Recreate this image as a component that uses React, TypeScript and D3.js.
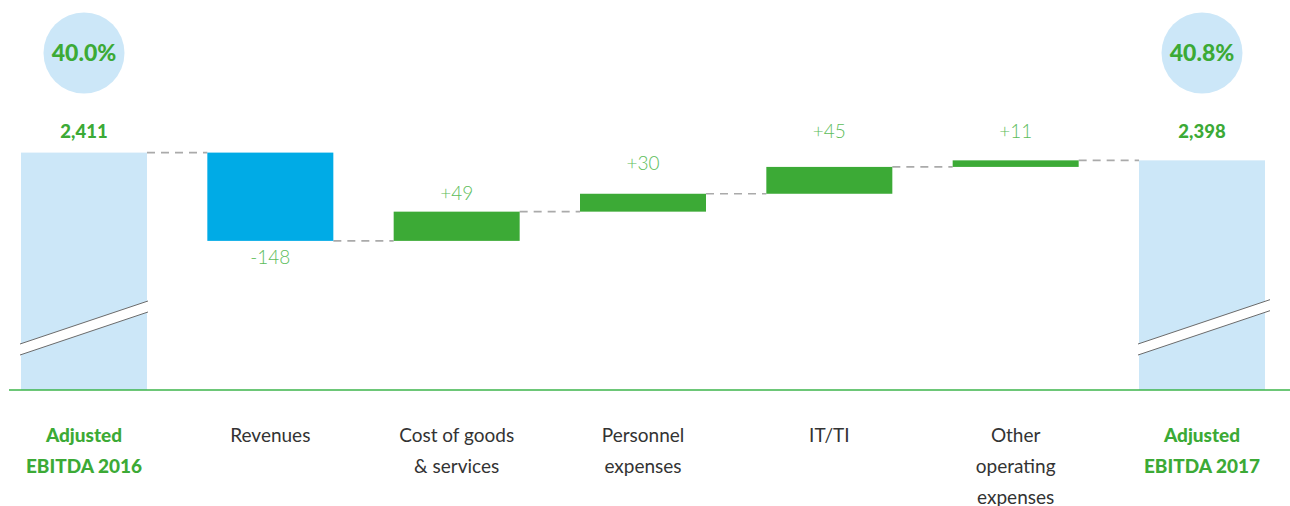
import React from "react";
import * as d3 from "d3";

const categories: string[][] = [
  ["Adjusted", "EBITDA 2016"],
  ["Revenues"],
  ["Cost of goods", "& services"],
  ["Personnel", "expenses"],
  ["IT/TI"],
  ["Other", "operating", "expenses"],
  ["Adjusted", "EBITDA 2017"],
];
const kinds = ["total", "delta", "delta", "delta", "delta", "delta", "total"];
const values = [2411, -148, 49, 30, 45, 11, 2398];
const margins = ["40.0%", "", "", "", "", "", "40.8%"];

const W = 1290;
const H = 506;
const GREEN = "#3caa36";
const LIGHTGREEN = "#5dbd5a";
const BLUE = "#00abe6";
const PALE = "#cce7f8";

export default function App() {
  const x = d3
    .scaleBand<number>()
    .domain(d3.range(categories.length))
    .range([21, 1265])
    .paddingInner(0.3238)
    .paddingOuter(0);
  const bw = x.bandwidth();
  const x0 = (i: number) => x(i) as number;

  const baseY = 390;
  const y = d3.scaleLinear().domain([2013, 2411]).range([baseY, 152.6]);

  let running = 0;
  const bars = values.map((v, i) => {
    if (kinds[i] === "total") {
      running = v;
      return { i, y0: y(v), y1: baseY, start: v, end: v, v };
    }
    const start = running;
    const end = running + v;
    running = end;
    return {
      i,
      y0: y(Math.max(start, end)),
      y1: y(Math.min(start, end)),
      start,
      end,
      v,
    };
  });

  const fmt = d3.format(",");
  const font = "Lato, 'Noto Sans', sans-serif";

  let posCount = 0;

  return (
    <svg width={W} height={H} style={{ position: "absolute", left: 0, top: 0 }}>
      {/* connectors */}
      {bars.slice(0, -1).map((b, k) => {
        const level = y(b.end);
        return (
          <line
            key={"c" + k}
            x1={x0(k) + bw}
            x2={x0(k + 1)}
            y1={level}
            y2={level}
            stroke="#aaaaaa"
            strokeWidth={1.6}
            strokeDasharray="8,6"
          />
        );
      })}
      {/* bars */}
      {bars.map((b) => {
        const isTotal = kinds[b.i] === "total";
        const fill = isTotal ? PALE : b.v < 0 ? BLUE : GREEN;
        return (
          <rect
            key={"b" + b.i}
            x={x0(b.i)}
            y={b.y0}
            width={bw}
            height={b.y1 - b.y0}
            fill={fill}
          />
        );
      })}
      {/* axis breaks */}
      {bars
        .filter((b) => kinds[b.i] === "total")
        .map((b) => {
          const l = x0(b.i) - 1;
          const r = x0(b.i) + bw + (b.i === 0 ? 1 : 5);
          const yl = 344;
          const slope = (301 - 344) / 128;
          const yr = yl + slope * (r - l);
          return (
            <g key={"br" + b.i}>
              <polygon
                points={`${l},${yl} ${r},${yr} ${r},${yr + 11} ${l},${yl + 11}`}
                fill="#ffffff"
              />
              <line x1={l} y1={yl} x2={r} y2={yr} stroke="#6b6b6b" strokeWidth={1} />
              <line x1={l} y1={yl + 11} x2={r} y2={yr + 11} stroke="#6b6b6b" strokeWidth={1} />
            </g>
          );
        })}
      {/* baseline */}
      <line x1={9} x2={1290} y1={baseY} y2={baseY} stroke="#3cb44b" strokeWidth={1.5} />
      {/* total bubbles + labels */}
      {bars
        .filter((b) => kinds[b.i] === "total")
        .map((b) => {
          const cx = x0(b.i) + bw / 2;
          return (
            <g key={"t" + b.i}>
              <circle cx={cx} cy={53} r={40.5} fill={PALE} />
              <text
                x={cx}
                y={61}
                textAnchor="middle"
                fontFamily={font}
                fontWeight={900}
                fontSize={23}
                fill={GREEN}
              >
                {margins[b.i]}
              </text>
              <text
                x={cx}
                y={138}
                textAnchor="middle"
                fontFamily={font}
                fontWeight={900}
                fontSize={18.5}
                fill={GREEN}
              >
                {fmt(b.v)}
              </text>
            </g>
          );
        })}
      {/* delta labels */}
      {bars
        .filter((b) => kinds[b.i] === "delta")
        .map((b) => {
          const cx = x0(b.i) + bw / 2;
          let ly: number;
          if (b.v < 0) {
            ly = b.y1 + 23;
          } else {
            ly = Math.max(138, Math.min(b.y0 - 12, 202 - 32 * posCount));
            posCount++;
          }
          return (
            <text
              key={"d" + b.i}
              x={cx}
              y={ly}
              textAnchor="middle"
              fontFamily={font}
              fontWeight={300}
              fontSize={19}
              fill={LIGHTGREEN}
            >
              {b.v > 0 ? "+" + b.v : String(b.v)}
            </text>
          );
        })}
      {/* category labels */}
      {categories.map((lines, i) => {
        const cx = x0(i) + bw / 2;
        const isTotal = kinds[i] === "total";
        return (
          <text
            key={"k" + i}
            textAnchor="middle"
            fontFamily={font}
            fontWeight={isTotal ? 900 : 400}
            fontSize={19}
            fill={isTotal ? GREEN : "#333333"}
          >
            {lines.map((ln, j) => (
              <tspan key={j} x={cx} y={442 + j * 31}>
                {ln}
              </tspan>
            ))}
          </text>
        );
      })}
    </svg>
  );
}
